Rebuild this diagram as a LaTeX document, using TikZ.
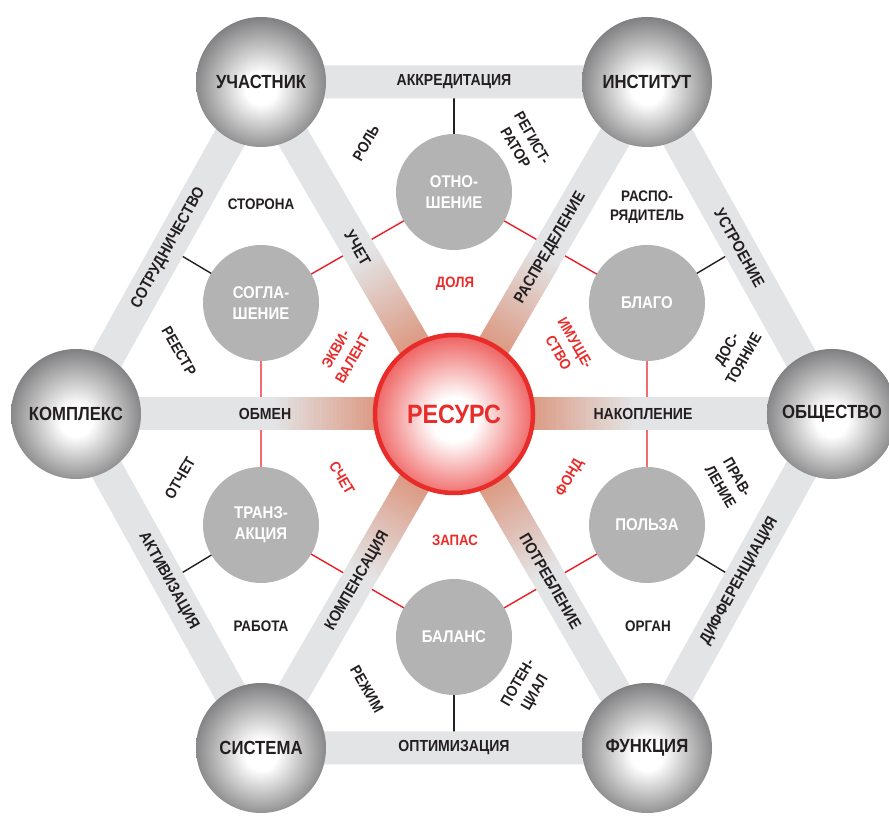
\documentclass[tikz,border=0pt]{standalone}
\usepackage{fontspec}
\setmainfont{Liberation Sans}[FakeStretch=0.88]
\usetikzlibrary{calc}
\definecolor{bargray}{RGB}{227,228,230}
\definecolor{spk}{RGB}{220,156,134}
\definecolor{circgray}{RGB}{179,179,179}
\definecolor{sphgray}{RGB}{118,118,120}
\definecolor{resred}{RGB}{232,44,42}
\definecolor{txt}{RGB}{35,31,32}
\definecolor{redline}{RGB}{237,28,36}
\pgfdeclareradialshading{sphere}{\pgfpoint{0bp}{-3bp}}{color(0bp)=(white); color(6bp)=(white); color(28bp)=(sphgray); color(50bp)=(sphgray)}
\pgfdeclareradialshading{ressh}{\pgfpoint{0bp}{-2bp}}{color(0bp)=(white); color(7bp)=(white); color(26bp)=(resred!75); color(50bp)=(resred!75)}
\pgfdeclarelayer{bg}
\pgfsetlayers{bg,main}
\tikzset{
  sph/.style={circle, inner sep=0pt, minimum size=130pt, shade, shading=sphere, text=txt, font=\bfseries\fontsize{19}{20}\selectfont},
  gcirc/.style={circle, inner sep=0pt, minimum size=116pt, fill=circgray, text=white, align=center, font=\bfseries\fontsize{17}{21}\selectfont},
  rescirc/.style={circle, inner sep=0pt, minimum size=158pt, shade, shading=ressh, draw=resred, line width=4.5pt, text=resred, font=\bfseries\fontsize{26.5}{28}\selectfont},
  barline/.style={line width=33pt, bargray},
  barlbl/.style={text=txt, inner sep=1pt, font=\bfseries\fontsize{16}{18}\selectfont},
  trilbl/.style={text=txt, align=center, inner sep=1pt, font=\bfseries\fontsize{15.3}{19.5}\selectfont},
  redlbl/.style={text=resred, align=center, inner sep=1pt, font=\bfseries\fontsize{15}{19.5}\selectfont},
  redconn/.style={redline, line width=1.4pt},
  blkconn/.style={txt, line width=1.4pt},
}
\begin{document}
\begin{tikzpicture}[x=1pt,y=1pt]
\useasboundingbox (0,0) rectangle (889,819);
% outer spheres
\node[sph] (L)  at (76,405)  {КОМПЛЕКС};
\node[sph] (R)  at (832,405) {ОБЩЕСТВО};
\node[sph] (UL) at (261,737) {УЧАСТНИК};
\node[sph] (UR) at (647,737) {ИНСТИТУТ};
\node[sph] (LL) at (261,71)  {СИСТЕМА};
\node[sph] (LR) at (647,71)  {ФУНКЦИЯ};
% inner gray circles
\node[gcirc] (rel)   at (454,627) {ОТНО-\\ШЕНИЕ};
\node[gcirc] (sogl)  at (261,516) {СОГЛА-\\ШЕНИЕ};
\node[gcirc] (blago) at (647,516) {БЛАГО};
\node[gcirc] (tranz) at (261,294) {ТРАНЗ-\\АКЦИЯ};
\node[gcirc] (polza) at (647,294) {ПОЛЬЗА};
\node[gcirc] (bal)   at (454,182) {БАЛАНС};
% center
\node[rescirc] (C) at (454,405) {РЕСУРС};
% edge midpoints
\coordinate (mT)  at ($(UL.center)!0.5!(UR.center)$);
\coordinate (mB)  at ($(LL.center)!0.5!(LR.center)$);
\coordinate (mUL) at ($(L.center)!0.5!(UL.center)$);
\coordinate (mUR) at ($(R.center)!0.5!(UR.center)$);
\coordinate (mLL) at ($(L.center)!0.5!(LL.center)$);
\coordinate (mLR) at ($(R.center)!0.5!(LR.center)$);
\begin{pgfonlayer}{bg}
  % red inner hexagon
  \draw[redconn] (rel.center) -- (blago.center) -- (polza.center) -- (bal.center) -- (tranz.center) -- (sogl.center) -- cycle;
  % black connectors to outer edges
  \draw[blkconn] (rel.center) -- (mT);
  \draw[blkconn] (bal.center) -- (mB);
  \draw[blkconn] (sogl.center) -- (mUL);
  \draw[blkconn] (blago.center) -- (mUR);
  \draw[blkconn] (tranz.center) -- (mLL);
  \draw[blkconn] (polza.center) -- (mLR);
  % outer bars
  \draw[barline] (UL.center) -- (UR.center) -- (R.center) -- (LR.center) -- (LL.center) -- (L.center) -- cycle;
  % spokes
  \foreach \V in {L,UL,UR,R,LL,LR}{
    \draw[barline] (C.center) -- (\V.center);
    \foreach \i in {0,...,36}{
      \pgfmathsetmacro\ta{0.10+\i*0.01}
      \pgfmathsetmacro\tb{\ta+0.012}
      \pgfmathsetmacro\pp{max(0,min(100,100*(0.47-\ta)/0.26))}
      \draw[line width=33pt, color=spk!\pp!bargray] ($(C.center)!\ta!(\V.center)$) -- ($(C.center)!\tb!(\V.center)$);
    }
  }
\end{pgfonlayer}
% bar labels
\path (UL.center) -- (UR.center) node[midway, barlbl] (lAkk) {АККРЕДИТАЦИЯ};
\path (LL.center) -- (LR.center) node[midway, barlbl] (lOpt) {ОПТИМИЗАЦИЯ};
\path (L.center) -- (UL.center) node[midway, sloped, barlbl] (lSot) {СОТРУДНИЧЕСТВО};
\path (UR.center) -- (R.center) node[midway, sloped, barlbl] (lUst) {УСТРОЕНИЕ};
\path (L.center) -- (LL.center) node[midway, sloped, barlbl] (lAkt) {АКТИВИЗАЦИЯ};
\path (R.center) -- (LR.center) node[midway, sloped, barlbl] (lDif) {ДИФФЕРЕНЦИАЦИЯ};
\path (C.center) -- (UL.center) node[midway, sloped, barlbl] (lUch) {УЧЕТ};
\path (C.center) -- (UR.center) node[midway, sloped, barlbl] (lRas) {РАСПРЕДЕЛЕНИЕ};
\path (C.center) -- (L.center) node[midway, barlbl] (lObm) {ОБМЕН};
\path (C.center) -- (R.center) node[midway, barlbl] (lNak) {НАКОПЛЕНИЕ};
\path (C.center) -- (LL.center) node[midway, sloped, barlbl] (lKom) {КОМПЕНСАЦИЯ};
\path (C.center) -- (LR.center) node[midway, sloped, barlbl] (lPot) {ПОТРЕБЛЕНИЕ};
% triangle labels (black)
\node[trilbl, rotate=60]  (tRol) at (366,676) {РОЛЬ};
\node[trilbl, rotate=-60] (tReg) at (524,676) {РЕГИСТ-\\РАТОР};
\node[trilbl]             (tSto) at (261,615) {СТОРОНА};
\node[trilbl, rotate=-60] (tRee) at (179,468) {РЕЕСТР};
\node[trilbl]             (tRsp) at (647,612) {РАСПО-\\РЯДИТЕЛЬ};
\node[trilbl, rotate=60]  (tDos) at (735,465) {ДОС-\\ТОЯНИЕ};
\node[trilbl, rotate=60]  (tOtc) at (180,341) {ОТЧЕТ};
\node[trilbl]             (tRab) at (261,193) {РАБОТА};
\node[trilbl, rotate=-60] (tPra) at (729,337) {ПРАВ-\\ЛЕНИЕ};
\node[trilbl]             (tOrg) at (648,193) {ОРГАН};
\node[trilbl, rotate=-60] (tRez) at (367,130) {РЕЖИМ};
\node[trilbl, rotate=60]  (tPtn) at (527,131) {ПОТЕН-\\ЦИАЛ};
% red labels
\node[redlbl]             (rDol) at (455,535) {ДОЛЯ};
\node[redlbl, rotate=60]  (rEkv) at (344,465) {ЭКВИ-\\ВАЛЕНТ};
\node[redlbl, rotate=-60] (rIm)  at (567,471) {ИМУЩЕ-\\СТВО};
\node[redlbl, rotate=-60] (rSch) at (342,341) {СЧЕТ};
\node[redlbl, rotate=60]  (rFon) at (570,341) {ФОНД};
\node[redlbl]             (rZap) at (455,279) {ЗАПАС};
\end{tikzpicture}
\end{document}
